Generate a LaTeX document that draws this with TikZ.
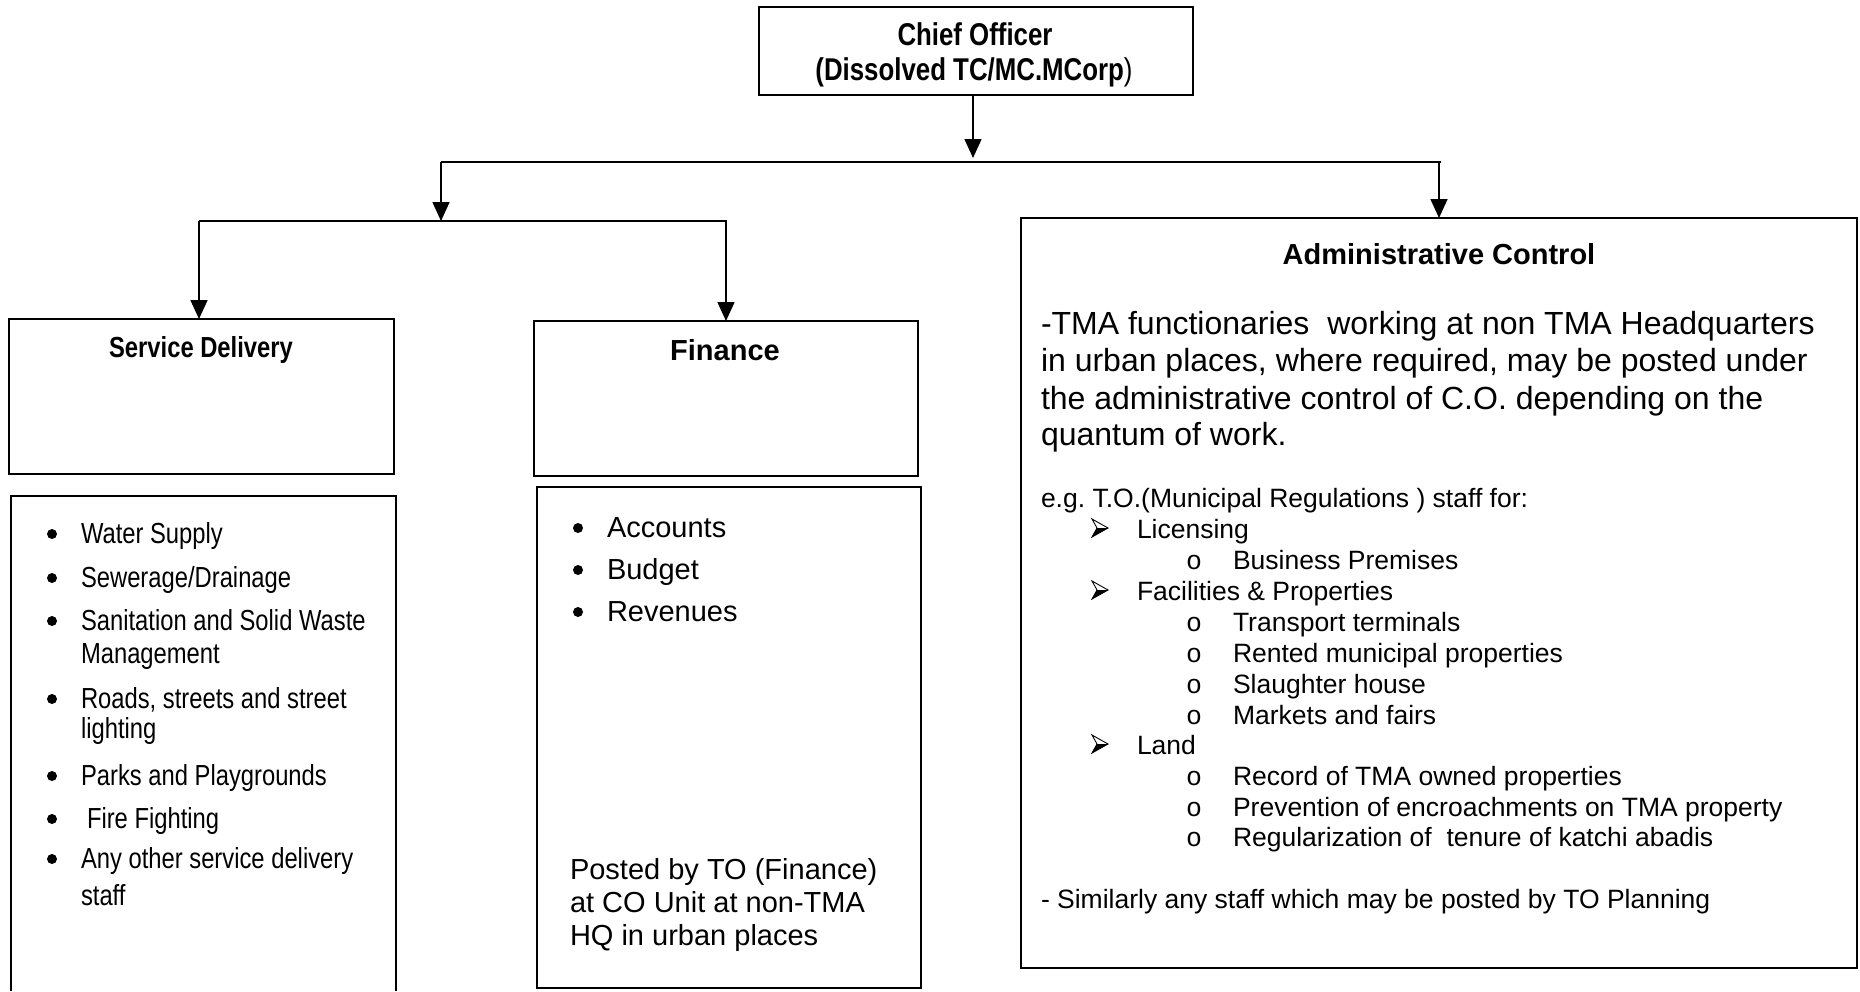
\documentclass[tikz,border=0pt]{standalone}
\usepackage{fontspec}
\setmainfont{Liberation Sans}
\newfontfamily\narrowfont[FakeStretch=0.82]{Liberation Sans}
\newfontfamily\ofont{Liberation Mono}
\usetikzlibrary{arrows.meta}
\frenchspacing
\tikzset{
  box/.style={draw, line width=1.6pt, rectangle, inner sep=0pt, outer sep=0pt},
  openbox/.style={rectangle, inner sep=0pt, outer sep=0pt},
  conn/.style={line width=1.6pt},
  arr/.style={conn, -{Triangle[length=19pt,width=17pt]}},
  txt/.style={anchor=base west, inner sep=0pt, outer sep=0pt},
  ctxt/.style={anchor=base, inner sep=0pt, outer sep=0pt},
  dot/.style={circle, fill, inner sep=0pt, minimum size=10pt},
  cofont/.style={font=\narrowfont\bfseries\fontsize{31.5}{35}\selectfont},
  sdtitle/.style={font=\narrowfont\bfseries\fontsize{29}{33}\selectfont},
  sdfont/.style={font=\narrowfont\fontsize{29}{33}\selectfont},
  bftitle/.style={font=\bfseries\fontsize{29}{33}\selectfont},
  finfont/.style={font=\fontsize{29}{33}\selectfont},
  parfont/.style={font=\fontsize{32}{37}\selectfont},
  lstfont/.style={font=\fontsize{26.5}{31}\selectfont},
  osty/.style={font=\ofont\fontsize{26.5}{31}\selectfont},
}
\begin{document}
\begin{tikzpicture}[x=1pt,y=-1pt]
\useasboundingbox (0,0) rectangle (1860,991);

% boxes
\node[box, minimum width=434, minimum height=88] (co) at (976,51) {};
\node[box, minimum width=385, minimum height=155] (sd) at (201.5,396.5) {};
\node[box, minimum width=384, minimum height=155] (fin) at (726,398.5) {};
\node[openbox, minimum width=385, minimum height=495] (sl) at (203.5,743.5) {};
\draw[line width=1.6pt] (sl.south west) -- (sl.north west) -- (sl.north east) -- (sl.south east);
\node[box, minimum width=384, minimum height=501] (fl) at (729,737.5) {};
\node[box, minimum width=836, minimum height=750] (adm) at (1439,593) {};

% connectors
\coordinate (j1) at (973,162);
\coordinate (j1l) at (441,162);
\coordinate (j1r) at (1441,162);
\coordinate (j2) at (441,221);
\coordinate (j2l) at (199,221);
\coordinate (j2r) at (727,221);
\draw[arr] (co.south -| j1) -- ([yshift=4pt]j1);
\draw[conn] (j1l) -- (j1r);
\draw[arr] (j1l) -- (j2);
\draw[arr] (adm.north |- j1r) -- (adm.north);
\draw[conn] (j2l) -- (j2r);
\draw[arr] (j2l) -- (j2l |- sd.north);
\draw[arr] (fin.north |- j2r) -- (fin.north);

% titles
\node[ctxt, cofont] (co1) at (975,45) {Chief Officer};
\node[ctxt, cofont] (co2) at (974,80) {(Dissolved TC/MC.MCorp{\mdseries)}};
\node[ctxt, sdtitle] (sdt) at (201,357) {Service Delivery};
\node[ctxt, bftitle] (fint) at (725,360) {Finance};
\node[ctxt, bftitle] (admt) at (1439,264) {Administrative Control};

% service delivery list
\foreach \y/\t [count=\i] in {543/Water Supply, 587/{Sewerage/Drainage}, 630/Sanitation and Solid Waste, 663/Management, 708/{Roads, streets and street}, 738/lighting, 785/Parks and Playgrounds, 868/Any other service delivery, 905/staff}
  \node[txt, sdfont] (s\i) at (81,\y) {\t};
\node[txt, sdfont] (sfire) at (87,828) {Fire Fighting};
\foreach \y [count=\i] in {543,587,630,708,785,828,868}
  \node[dot] (sb\i) at (52,\y-9) {};

% finance list
\foreach \y/\t [count=\i] in {537/Accounts, 579/Budget, 621/Revenues}
  \node[txt, finfont] (f\i) at (607,\y) {\t};
\foreach \y [count=\i] in {537,579,621}
  \node[dot] (fb\i) at (578,\y-9) {};
\foreach \y/\t [count=\i] in {879/Posted by TO (Finance), 912/at CO Unit at non-TMA, 945/HQ in urban places}
  \node[txt, finfont] (p\i) at (570,\y) {\t};

% administrative control text
\node[txt, parfont] (a1) at (1041,334) {-TMA functionaries\ \ working at non TMA Headquarters};
\node[txt, parfont] (a2) at (1041,371) {in urban places, where required, may be posted under};
\node[txt, parfont] (a3) at (1041,409) {the administrative control of C.O. depending on the};
\node[txt, parfont] (a4) at (1041,445) {quantum of work.};
\node[txt, lstfont] (eg) at (1041,507) {e.g. T.O.(Municipal Regulations ) staff for:};
\foreach \y/\t [count=\i] in {538/Licensing, 600/Facilities \& Properties, 754/Land}
  \node[txt, lstfont] (l\i) at (1137,\y) {\t};
\foreach \y in {538,600,754} {
  \fill (1092,\y-1) -- (1108,\y-10) -- (1097,\y-10) -- cycle;
  \draw[line width=0.9pt, line join=miter] (1092,\y-19) -- (1108,\y-10) -- (1092,\y-1) -- (1097,\y-10) -- cycle;
}
\foreach \y/\t [count=\i] in {569/Business Premises, 631/Transport terminals, 662/Rented municipal properties, 693/Slaughter house, 724/Markets and fairs, 785/Record of TMA owned properties, 816/Prevention of encroachments on TMA property, 846/Regularization of\ \ tenure of katchi abadis}
  \node[txt, lstfont] (m\i) at (1233,\y) {\t};
\foreach \y [count=\i] in {569,631,662,693,724,785,816,846}
  \node[txt, osty] (mo\i) at (1186,\y) {o};
\node[txt, lstfont] (sim) at (1041,908) {- Similarly any staff which may be posted by TO Planning};
\end{tikzpicture}
\end{document}
